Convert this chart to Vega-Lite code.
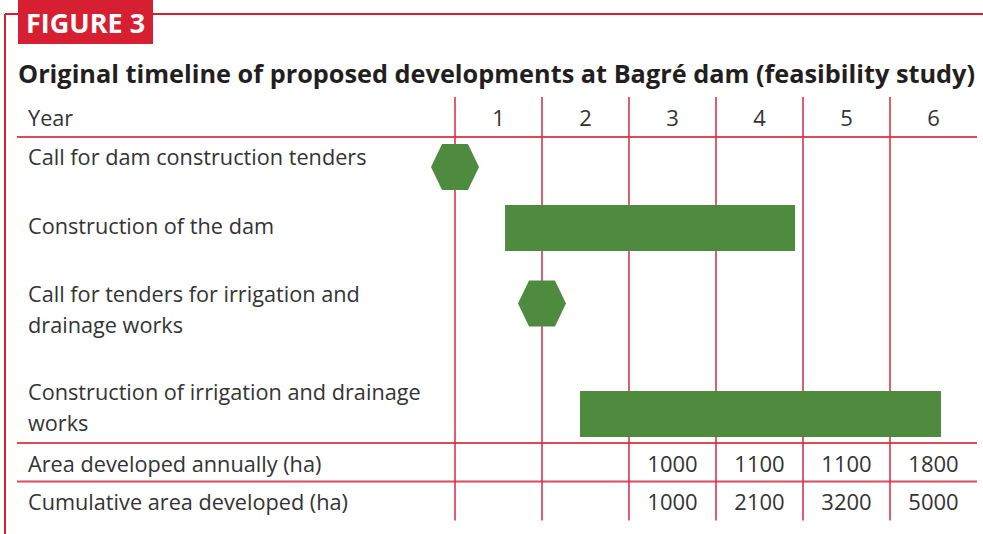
{
  "$schema": "https://vega.github.io/schema/vega-lite/v6.json",
  "width": 983,
  "height": 534,
  "padding": 0,
  "autosize": {"type": "none"},
  "background": "white",
  "config": {"view": {"stroke": null}},
  "datasets": {
    "frame": [
      {"x": -4.6724, "x2": 6.569, "y": 14, "y2": 14},
      {"x": -4.6724, "x2": -4.6724, "y": 14, "y2": 534}
    ],
    "box": [{"x": -4.523, "x2": -2.9713, "y": 0, "y2": 44}],
    "figlabel": [{"x": -4.431, "y": 33, "text": "FIGURE 3"}],
    "title": [{"x": -4.523, "y": 83, "text": "Original timeline of proposed developments at Bagré dam (feasibility study)"}],
    "hlines": [
      {"x": -4.5345, "x2": 6.5, "y": 137},
      {"x": -4.5345, "x2": 6.5, "y": 443},
      {"x": -4.5345, "x2": 6.5, "y": 481.5}
    ],
    "vlines": [
      {"x": 0.5, "y": 97, "y2": 520.5},
      {"x": 1.5, "y": 97, "y2": 520.5},
      {"x": 2.5, "y": 97, "y2": 520.5},
      {"x": 3.5, "y": 97, "y2": 520.5},
      {"x": 4.5, "y": 97, "y2": 520.5},
      {"x": 5.5, "y": 97, "y2": 520.5}
    ],
    "bars": [
      {"task": "Construction of the dam", "start": 1.075, "end": 4.408, "y": 205, "y2": 251},
      {"task": "Construction of irrigation and drainage works", "start": 1.937, "end": 6.086, "y": 391, "y2": 437}
    ],
    "milestones": [
      {"task": "Call for dam construction tenders", "year": 0.5, "y": 167},
      {"task": "Call for tenders for irrigation and drainage works", "year": 1.5, "y": 303.5}
    ],
    "rowlabels": [
      {"x": -4.408, "y": 126, "text": "Year"},
      {"x": -4.408, "y": 165, "text": "Call for dam construction tenders"},
      {"x": -4.408, "y": 234, "text": "Construction of the dam"},
      {"x": -4.408, "y": 302, "text": "Call for tenders for irrigation and\ndrainage works"},
      {"x": -4.408, "y": 400, "text": "Construction of irrigation and drainage\nworks"},
      {"x": -4.408, "y": 472, "text": "Area developed annually (ha)"},
      {"x": -4.408, "y": 510, "text": "Cumulative area developed (ha)"}
    ],
    "cells": [
      {"year": 1, "y": 126, "text": "1"},
      {"year": 2, "y": 126, "text": "2"},
      {"year": 3, "y": 126, "text": "3"},
      {"year": 4, "y": 126, "text": "4"},
      {"year": 5, "y": 126, "text": "5"},
      {"year": 6, "y": 126, "text": "6"},
      {"year": 3, "y": 472, "text": "1000"},
      {"year": 4, "y": 472, "text": "1100"},
      {"year": 5, "y": 472, "text": "1100"},
      {"year": 6, "y": 472, "text": "1800"},
      {"year": 3, "y": 510, "text": "1000"},
      {"year": 4, "y": 510, "text": "2100"},
      {"year": 5, "y": 510, "text": "3200"},
      {"year": 6, "y": 510, "text": "5000"}
    ]
  },
  "layer": [
    {
      "data": {"name": "frame"},
      "mark": {"type": "rule", "color": "#d61f35", "strokeWidth": 2},
      "encoding": {
        "x": {"field": "x", "type": "quantitative", "scale": {"domain": [-4.7299, 6.569], "nice": false, "zero": false}, "axis": null},
        "x2": {"field": "x2"},
        "y": {"field": "y", "type": "quantitative", "scale": {"domain": [0, 534], "reverse": true, "nice": false, "zero": false}, "axis": null},
        "y2": {"field": "y2"}
      }
    },
    {
      "data": {"name": "box"},
      "mark": {"type": "rect", "color": "#d71f32"},
      "encoding": {
        "x": {"field": "x", "type": "quantitative"},
        "x2": {"field": "x2"},
        "y": {"field": "y", "type": "quantitative"},
        "y2": {"field": "y2"}
      }
    },
    {
      "data": {"name": "figlabel"},
      "mark": {"type": "text", "align": "left", "baseline": "alphabetic", "font": "Open Sans", "fontWeight": "bold", "fontSize": 27, "color": "white"},
      "encoding": {
        "x": {"field": "x", "type": "quantitative"},
        "y": {"field": "y", "type": "quantitative"},
        "text": {"field": "text"}
      }
    },
    {
      "data": {"name": "title"},
      "mark": {"type": "text", "align": "left", "baseline": "alphabetic", "font": "Open Sans", "fontWeight": "bold", "fontSize": 25.3, "color": "#231f20"},
      "encoding": {
        "x": {"field": "x", "type": "quantitative"},
        "y": {"field": "y", "type": "quantitative"},
        "text": {"field": "text"}
      }
    },
    {
      "data": {"name": "hlines"},
      "mark": {"type": "rule", "color": "#dd4a5a", "strokeWidth": 1.8},
      "encoding": {
        "x": {"field": "x", "type": "quantitative"},
        "x2": {"field": "x2"},
        "y": {"field": "y", "type": "quantitative"}
      }
    },
    {
      "data": {"name": "vlines"},
      "mark": {"type": "rule", "color": "#d8283c", "strokeWidth": 1.5},
      "encoding": {
        "x": {"field": "x", "type": "quantitative"},
        "y": {"field": "y", "type": "quantitative"},
        "y2": {"field": "y2"}
      }
    },
    {
      "data": {"name": "bars"},
      "mark": {"type": "rect", "color": "#4e8b3e"},
      "encoding": {
        "x": {"field": "start", "type": "quantitative"},
        "x2": {"field": "end"},
        "y": {"field": "y", "type": "quantitative"},
        "y2": {"field": "y2"}
      }
    },
    {
      "data": {"name": "milestones"},
      "mark": {"type": "point", "filled": true, "opacity": 1, "color": "#4e8b3e", "strokeWidth": 0, "size": 2304, "shape": "M-1,0L-0.54,-0.96L0.54,-0.96L1,0L0.54,0.96L-0.54,0.96Z"},
      "encoding": {
        "x": {"field": "year", "type": "quantitative"},
        "y": {"field": "y", "type": "quantitative"}
      }
    },
    {
      "data": {"name": "rowlabels"},
      "mark": {"type": "text", "align": "left", "baseline": "alphabetic", "font": "Open Sans", "fontSize": 21.7, "color": "#333333", "lineBreak": "\n", "lineHeight": 31},
      "encoding": {
        "x": {"field": "x", "type": "quantitative"},
        "y": {"field": "y", "type": "quantitative"},
        "text": {"field": "text"}
      }
    },
    {
      "data": {"name": "cells"},
      "mark": {"type": "text", "align": "center", "baseline": "alphabetic", "font": "Open Sans", "fontSize": 22, "color": "#333333"},
      "encoding": {
        "x": {"field": "year", "type": "quantitative"},
        "y": {"field": "y", "type": "quantitative"},
        "text": {"field": "text"}
      }
    }
  ]
}
